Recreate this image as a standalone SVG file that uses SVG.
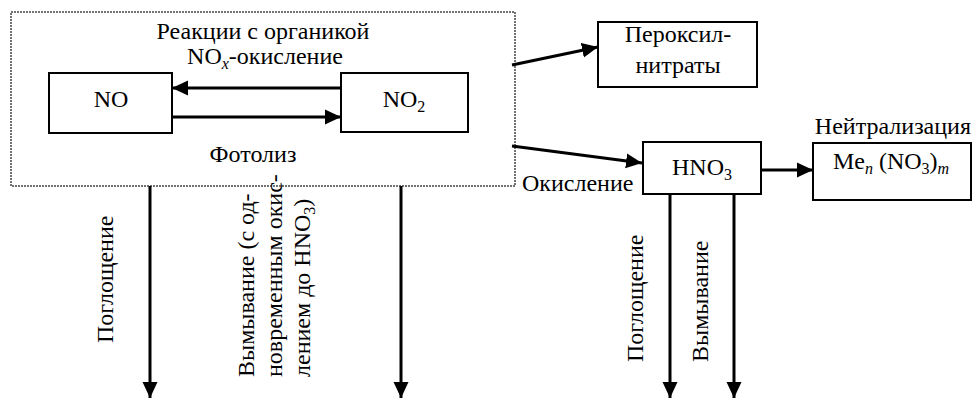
<svg xmlns="http://www.w3.org/2000/svg" width="973" height="398" viewBox="0 0 973 398">
<defs>
<marker id="ah" markerUnits="userSpaceOnUse" markerWidth="16" markerHeight="16" viewBox="0 0 16 16" refX="16" refY="8" orient="auto">
<path d="M0,0.5 L16,8 L0,15.5 z" fill="#000"/>
</marker>
</defs>
<rect width="973" height="398" fill="#fff"/>
<g font-family="Liberation Serif, FreeSerif, Tinos, DejaVu Serif, serif" font-size="24">
<g id="outer">
<rect x="11" y="12" width="504" height="174" fill="#fff" stroke="#444" stroke-width="1.5" stroke-dasharray="2 1"/>
<text text-anchor="middle" x="263" y="39">Реакции с органикой</text>
<text text-anchor="middle" x="265" y="64">NO<tspan font-size="16" font-style="italic" dy="5">x</tspan><tspan dy="-5">-окисление</tspan></text>
<text text-anchor="middle" x="253" y="162">Фотолиз</text>
</g>
<g fill="#fff" stroke="#000" stroke-width="2">
<rect id="no-box" x="49" y="73" width="123" height="60"/>
<rect id="no2-box" x="341" y="73" width="127" height="59"/>
<rect id="peroxy-box" x="598" y="22" width="159" height="65"/>
<rect id="hno3-box" x="643" y="142" width="118" height="52"/>
<rect id="salt-box" x="813" y="143" width="158" height="57"/>
</g>
<g id="no">
<text text-anchor="middle" x="111" y="107">NO</text>
</g>
<g id="no2">
<text text-anchor="middle" x="404" y="107">NO<tspan font-size="16" dy="5">2</tspan></text>
</g>
<g id="peroxy">
<text text-anchor="middle" x="678" y="42">Пероксил-</text>
<text text-anchor="middle" x="678" y="73">нитраты</text>
</g>
<g id="hno3">
<text text-anchor="middle" x="702" y="175">HNO<tspan font-size="16" dy="5">3</tspan></text>
</g>
<g id="salt">
<text text-anchor="middle" x="891" y="169">Me<tspan font-size="16" font-style="italic" dy="5">n</tspan><tspan dy="-5"> (NO</tspan><tspan font-size="16" dy="5">3</tspan><tspan dy="-5">)</tspan><tspan font-size="16" font-style="italic" dy="5">m</tspan></text>
</g>
<g id="connectors" fill="none" stroke="#000" stroke-width="3" marker-end="url(#ah)">
<line x1="341" y1="88" x2="172" y2="88"/>
<line x1="172" y1="117" x2="341" y2="117"/>
<line x1="512" y1="65" x2="598" y2="47"/>
<line x1="512" y1="146" x2="642" y2="163"/>
<line x1="761" y1="170" x2="813" y2="170"/>
<line x1="150" y1="186" x2="150" y2="398"/>
<line x1="401" y1="186" x2="401" y2="398"/>
<line x1="670" y1="194" x2="670" y2="398"/>
<line x1="734" y1="194" x2="734" y2="398"/>
</g>
<g id="labels">
<text text-anchor="end" x="971" y="134">Нейтрализация</text>
<text x="522" y="191">Окисление</text>
<text transform="translate(113,343) rotate(-90)">Поглощение</text>
<text transform="translate(254,377) rotate(-90)">Вымывание (с од-</text>
<text transform="translate(282,377) rotate(-90)">новременным окис-</text>
<text transform="translate(310,377) rotate(-90)">лением до HNO<tspan font-size="16" dy="5">3</tspan><tspan dy="-5">)</tspan></text>
<text transform="translate(643,362) rotate(-90)">Поглощение</text>
<text transform="translate(708,362) rotate(-90)">Вымывание</text>
</g>
</g>
</svg>
